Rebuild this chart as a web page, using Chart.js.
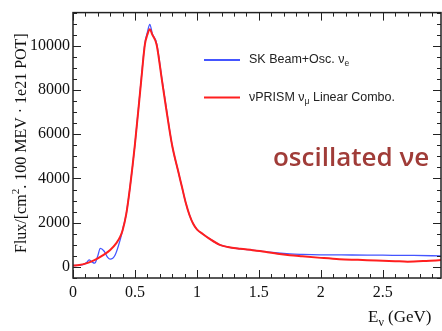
<!DOCTYPE html>
<html><head><meta charset="utf-8">
<script src="https://cdn.jsdelivr.net/npm/chart.js@4.4.0/dist/chart.umd.min.js"></script>
<style>html,body{margin:0;padding:0;background:#fff;}canvas{display:block;}</style>
</head><body>
<canvas id="c" width="442" height="331"></canvas>
<script>
// ---- data ----
const redEnergy = [0.00,0.05,0.10,0.15,0.20,0.25,0.30,0.35,0.38,0.40,0.43,0.46,0.50,0.55,0.58,0.60,0.62,0.64,0.675,0.715,0.755,0.80,0.85,0.88,0.91,0.94,0.97,1.00,1.05,1.10,1.185,1.25,1.35,1.45,1.55,1.65,1.75,1.85,2.00,2.15,2.30,2.45,2.60,2.70,2.85,2.97];
const redFlux   = [60,90,150,250,390,560,770,1080,1360,1650,2400,3600,5550,8400,10050,10500,10750,10500,10050,8550,7050,5500,4300,3600,2900,2350,1950,1700,1480,1280,1000,900,820,760,690,600,530,480,410,350,320,290,260,240,270,310];
const blueEnergy = [0.00,0.05,0.08,0.11,0.13,0.15,0.175,0.20,0.22,0.25,0.28,0.30,0.34,0.38,0.406,0.43,0.46,0.50,0.55,0.58,0.60,0.62,0.64,0.675,0.715,0.755,0.80,0.85,0.88,0.91,0.94,0.97,1.00,1.05,1.10,1.185,1.25,1.35,1.45,1.55,1.65,1.75,1.85,2.00,2.25,2.50,2.75,2.97];
const blueFlux   = [60,80,100,200,320,240,170,500,840,720,430,350,540,1210,1810,2400,3600,5550,8450,10100,10600,10970,10550,10100,8600,7100,5500,4300,3600,2900,2350,1950,1700,1480,1280,1000,900,820,760,690,630,590,570,550,540,530,520,500];
const xTickValues = [0,0.5,1,1.5,2,2.5];
const yTickValues = [0,2000,4000,6000,8000,10000];
const seriesNames = ["SK Beam+Osc. ν", "νPRISM ν"];

const pts = (xs, ys) => xs.map((x,i)=>({x:x, y:ys[i]}));
const SERIF = '"Liberation Serif","DejaVu Serif",serif';
const SANS = '"Liberation Sans",Arial,sans-serif';

function rich(ctx, parts, x, y) {
  let cx = x;
  for (const p of parts) {
    ctx.font = p.font;
    ctx.fillText(p.t, cx, y + (p.dy||0));
    cx += ctx.measureText(p.t).width;
  }
}

const decor = {
  id: 'decor',
  afterDatasetsDraw(chart) {
    const {ctx, chartArea: a, scales: {x, y}} = chart;
    ctx.save();
    // frame
    ctx.strokeStyle = '#222'; ctx.lineWidth = 1.5;
    ctx.strokeRect(a.left, a.top, a.right - a.left, a.bottom - a.top);
    // inward ticks
    ctx.lineWidth = 1;
    ctx.beginPath();
    for (let i = 0; i <= 29; i++) {
      const v = i / 10; const px = Math.round(x.getPixelForValue(v)) + 0.5;
      const major = i % 5 === 0; const L = major ? 8 : 4;
      ctx.moveTo(px, a.bottom); ctx.lineTo(px, a.bottom - L);
      ctx.moveTo(px, a.top); ctx.lineTo(px, a.top + L);
    }
    for (let v = -500; v <= 11500; v += 500) {
      const py = Math.round(y.getPixelForValue(v)) + 0.5;
      const major = v % 2000 === 0; const L = major ? 8 : 4;
      ctx.moveTo(a.left, py); ctx.lineTo(a.left + L, py);
      ctx.moveTo(a.right, py); ctx.lineTo(a.right - L, py);
    }
    ctx.stroke();

    // legend
    const ds = chart.data.datasets;
    const legY = [60, 97.5];
    ctx.textBaseline = 'middle';
    ctx.fillStyle = '#222';
    ds.forEach((d, i) => {
      ctx.strokeStyle = d.borderColor; ctx.lineWidth = 2;
      ctx.beginPath(); ctx.moveTo(204, legY[i]); ctx.lineTo(240, legY[i]); ctx.stroke();
    });
    rich(ctx, [{t: seriesNames[0], font: '12.5px ' + SANS}, {t: 'e', font: '8.5px ' + SANS, dy: 4}], 249, legY[0]);
    rich(ctx, [{t: seriesNames[1], font: '12.5px ' + SANS}, {t: 'μ', font: '8.5px ' + SANS, dy: 4}, {t: ' Linear Combo.', font: '12.5px ' + SANS}], 249, legY[1]);

    // annotation
    ctx.fillStyle = '#a03c38';
    ctx.font = '600 26px "Open Sans", sans-serif';
    ctx.textBaseline = 'alphabetic';
    ctx.fillText('oscillated νe', 273, 166);

    // axis titles
    ctx.fillStyle = '#111';
    ctx.textBaseline = 'alphabetic';
    rich(ctx, [{t: 'E', font: '17px ' + SERIF}, {t: 'ν', font: '12px ' + SERIF, dy: 4}, {t: ' (GeV)', font: '17px ' + SERIF}], 368, 322);
    ctx.translate(26, 253);
    ctx.rotate(-Math.PI / 2);
    rich(ctx, [{t: 'Flux/[cm', font: '16px ' + SERIF}, {t: '2', font: '11px ' + SERIF, dy: -7}, {t: '. 100 MEV · 1e21 POT]', font: '16px ' + SERIF}], 0, 0);
    ctx.restore();
  }
};

new Chart(document.getElementById('c'), {
  type: 'line',
  data: {
    datasets: [
      {label: seriesNames[0], data: pts(blueEnergy, blueFlux), borderColor: '#4455ff', borderWidth: 1.3, pointRadius: 0, cubicInterpolationMode: 'monotone', order: 2},
      {label: seriesNames[1], data: pts(redEnergy, redFlux), borderColor: '#ff1f1f', borderWidth: 2, pointRadius: 0, cubicInterpolationMode: 'monotone', order: 1}
    ]
  },
  options: {
    responsive: false, animation: false, devicePixelRatio: 1,
    layout: {padding: {top: 11, right: 1, left: 0, bottom: 0}},
    plugins: {legend: {display: false}, tooltip: {enabled: false}},
    scales: {
      x: {
        type: 'linear', min: 0, max: 2.97,
        grid: {display: false, drawTicks: false}, border: {display: false},
        afterBuildTicks: s => { s.ticks = xTickValues.map(v => ({value: v})); },
        afterFit: s => { s.height = 53; },
        ticks: {font: {family: SERIF, size: 16}, color: '#111', padding: 5, maxRotation: 0, autoSkip: false,
                callback: v => String(v)}
      },
      y: {
        type: 'linear', min: -500, max: 11500,
        grid: {display: false, drawTicks: false}, border: {display: false},
        afterBuildTicks: s => { s.ticks = yTickValues.map(v => ({value: v})); },
        afterFit: s => { s.width = 73; },
        ticks: {font: {family: SERIF, size: 16}, color: '#111', padding: 3, autoSkip: false,
                callback: v => String(v)}
      }
    }
  },
  plugins: [decor]
});
</script>
</body></html>
